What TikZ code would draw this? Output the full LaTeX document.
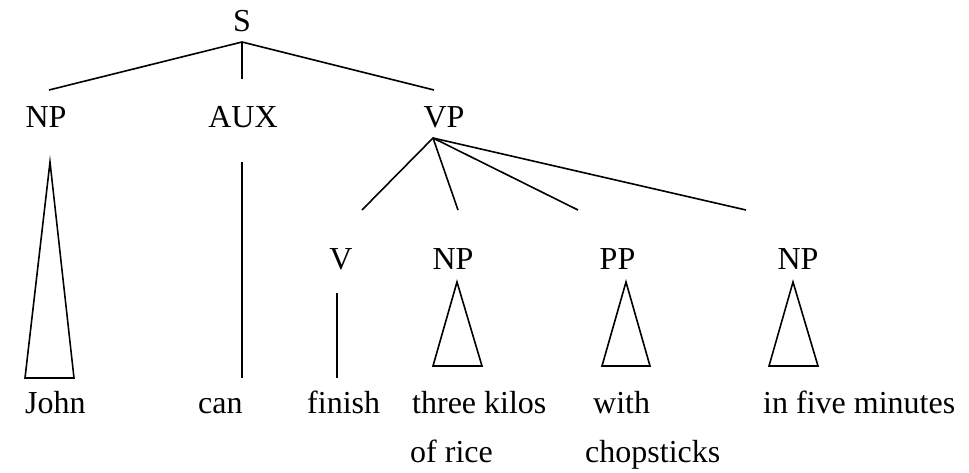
\documentclass[tikz,border=0pt]{standalone}
\usepackage{fontspec}
\setmainfont{Liberation Serif}
\begin{document}
\begin{tikzpicture}[x=1pt,y=-1pt,
  lbl/.style={inner sep=0pt,anchor=base,font=\fontsize{32pt}{38pt}\selectfont},
  word/.style={inner sep=0pt,anchor=base west,font=\fontsize{32pt}{38pt}\selectfont},
  edge/.style={line width=1.6pt,line join=miter}]
\useasboundingbox (0,0) rectangle (969,472);
% category labels
\node[lbl] (S) at (242,31) {S};
\node[lbl] (NP) at (46,127) {NP};
\node[lbl] (AUX) at (243,127) {AUX};
\node[lbl] (VP) at (444,127) {VP};
\node[lbl] (V) at (341,269) {V};
\node[lbl] (NPa) at (453,269) {NP};
\node[lbl] (PP) at (617.5,269) {PP};
\node[lbl] (NPb) at (798,269) {NP};
% words
\node[word] (john) at (25,413) {John};
\node[word] (can) at (198,413) {can};
\node[word] (finish) at (307,413) {finish};
\node[word] (three) at (412,413) {three kilos};
\node[word] (rice) at (410,462) {of rice};
\node[word] (with) at (593,413) {with};
\node[word] (chop) at (585,462) {chopsticks};
\node[word] (five) at (763,413) {in five minutes};
% attachment points
\coordinate (Sb) at (242,42);
\coordinate (NPt) at (49,90);
\coordinate (AUXt) at (242,79);
\coordinate (VPt) at (434,90);
\coordinate (VPb) at (433,138);
\coordinate (Vt) at (362,210);
\coordinate (NPat) at (458,210);
\coordinate (PPt) at (578,210);
\coordinate (NPbt) at (746,210);
\coordinate (NPapex) at (50,162);
\coordinate (NPbl) at (25,378);
\coordinate (NPbr) at (74,378);
\coordinate (AUXb) at (242,162);
\coordinate (canT) at (242,378);
\coordinate (Vb) at (337,293);
\coordinate (finT) at (337,378);
\coordinate (NPaapex) at (457,282);
\coordinate (NPabl) at (433,366);
\coordinate (NPabr) at (482,366);
\coordinate (PPapex) at (626,282);
\coordinate (PPbl) at (602,366);
\coordinate (PPbr) at (650,366);
\coordinate (NPbapex) at (793,282);
\coordinate (NPbbl) at (769,366);
\coordinate (NPbbr) at (818,366);
% branches
\draw[edge] (NPt) -- (Sb) -- (VPt);
\draw[edge] (Sb) -- (AUXt);
\draw[edge] (Vt) -- (VPb) -- (NPbt);
\draw[edge] (VPb) -- (NPat);
\draw[edge] (VPb) -- (PPt);
\draw[edge] (NPapex) -- (NPbl) -- (NPbr) -- cycle;
\draw[edge] (AUXb) -- (canT);
\draw[edge] (Vb) -- (finT);
\draw[edge] (NPaapex) -- (NPabl) -- (NPabr) -- cycle;
\draw[edge] (PPapex) -- (PPbl) -- (PPbr) -- cycle;
\draw[edge] (NPbapex) -- (NPbbl) -- (NPbbr) -- cycle;
\end{tikzpicture}
\end{document}
